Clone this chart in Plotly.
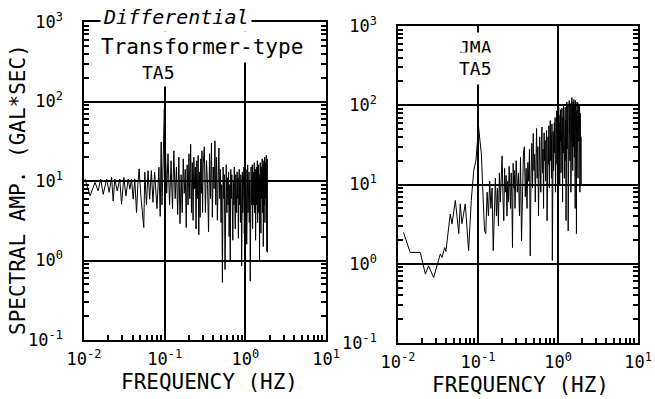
import plotly.graph_objects as go

# ---------------- data ----------------
# Left panel: Differential Transformer-type, TA5 -- low-frequency part
dt_freq_lo = [0.0103, 0.0119, 0.0137, 0.0150, 0.0161, 0.0173, 0.0191, 0.0205, 0.0220, 0.0230,
              0.0241, 0.0258, 0.0278, 0.0292, 0.0312, 0.0331, 0.0353, 0.0370, 0.0388, 0.0407,
              0.0426, 0.0448, 0.0465, 0.0482, 0.0510, 0.0551, 0.0567, 0.0595, 0.0622, 0.0652,
              0.0684, 0.0716, 0.0751, 0.0802, 0.0849, 0.0880, 0.0905, 0.0925, 0.0940, 0.0955,
              0.0975, 0.0990, 0.1005, 0.1020, 0.1040, 0.1060, 0.1080]
dt_amp_lo = [10.6, 6.5, 9.6, 7.5, 10.6, 6.8, 10.6, 7.2, 11.1, 5.6,
             10.6, 7.5, 10.6, 5.1, 11.1, 6.5, 10.6, 7.9, 10.6, 5.9,
             10.6, 4.0, 9.0, 14.2, 6.0, 2.6, 12.9, 5.0, 13.5, 5.9,
             13.5, 5.4, 12.9, 4.5, 14.9, 3.6, 31, 5, 8, 19,
             45, 80, 50, 30, 14, 7, 12]

# shared frequency grids for the dense part
freq_mid = [0.110, 0.115, 0.120, 0.125, 0.130, 0.135, 0.140, 0.145, 0.150, 0.155,
            0.160, 0.165, 0.170, 0.175, 0.180, 0.185, 0.190, 0.195, 0.200, 0.205,
            0.210, 0.215, 0.220, 0.225, 0.230, 0.235, 0.240, 0.245, 0.250, 0.255,
            0.260, 0.265, 0.270, 0.275, 0.280, 0.285, 0.290, 0.295, 0.300]
freq_hi = [0.31, 0.32, 0.33, 0.34, 0.35, 0.36, 0.37, 0.38, 0.39, 0.40,
           0.41, 0.42, 0.43, 0.44, 0.45, 0.46, 0.47, 0.48, 0.49, 0.50,
           0.51, 0.52, 0.53, 0.54, 0.55, 0.56, 0.57, 0.58, 0.59, 0.60,
           0.61, 0.62, 0.63, 0.64, 0.65, 0.66, 0.67, 0.68, 0.69, 0.70,
           0.71, 0.72, 0.73, 0.74, 0.75, 0.76, 0.77, 0.78, 0.79, 0.80,
           0.81, 0.82, 0.83, 0.84, 0.85, 0.86, 0.87, 0.88, 0.89, 0.90,
           0.91, 0.92, 0.93, 0.94, 0.95, 0.96, 0.97, 0.98, 0.99, 1.00,
           1.01, 1.02, 1.03, 1.04, 1.05, 1.06, 1.07, 1.08, 1.09, 1.10,
           1.11, 1.12, 1.13, 1.14, 1.15, 1.16, 1.17, 1.18, 1.19, 1.20,
           1.21, 1.22, 1.23, 1.24, 1.25, 1.26, 1.27, 1.28, 1.29, 1.30,
           1.31, 1.32, 1.33, 1.34, 1.35, 1.36, 1.37, 1.38, 1.39, 1.40,
           1.41, 1.42, 1.43, 1.44, 1.45, 1.46, 1.47, 1.48, 1.49, 1.50,
           1.51, 1.52, 1.53, 1.54, 1.55, 1.56, 1.57, 1.58, 1.59, 1.60,
           1.61, 1.62, 1.63, 1.64, 1.65, 1.66, 1.67, 1.68, 1.69, 1.70,
           1.71, 1.72, 1.73, 1.74, 1.75, 1.76, 1.77, 1.78, 1.79, 1.80,
           1.81, 1.82, 1.83, 1.84, 1.85, 1.86, 1.87, 1.88, 1.89, 1.90,
           1.91, 1.92, 1.93, 1.94, 1.95]

dt_amp_mid = [22, 5, 18, 4.5, 24, 6, 15, 3.8, 20, 2.9,
              12, 4, 19, 7, 14, 2.6, 16, 5, 22, 6,
              29, 4, 17, 3.2, 20, 8, 15, 2.5, 18, 6,
              21, 2.1, 13, 3.5, 19, 7, 24, 4, 16]
dt_amp_hi = [27, 4, 18, 9, 2.3, 22, 6, 30, 3.5, 15,
             8, 32, 5, 20, 3.2, 12, 26, 6, 14, 3.0,
             9, 0.53, 15, 6, 12, 0.77, 8, 16, 4, 11,
             5, 13, 2.0, 9, 1.0, 14, 6, 12, 3, 1.8,
             10, 5, 15, 7, 2.5, 12, 8, 4, 13, 6,
             11, 1.9, 9, 14, 5, 10, 3, 12, 7, 0.85,
             9, 13, 4, 11, 6, 15, 2.2, 10, 8, 12,
             5, 14, 7, 1.6, 11, 9, 16, 4, 12, 6,
             13, 3, 10, 8, 0.55, 12, 6, 15, 5, 11,
             7, 16, 2.5, 9, 13, 5, 11, 8, 17, 4,
             10, 6, 14, 1.8, 12, 8, 15, 5, 11, 7,
             18, 3, 9, 13, 6, 16, 4, 12, 8, 1.0,
             11, 7, 17, 5, 14, 2.2, 10, 15, 6, 12,
             8, 19, 4, 13, 7, 16, 1.5, 11, 9, 18,
             5, 14, 8, 20, 3, 12, 10, 17, 6, 15,
             9, 21, 4, 13, 1.3, 16, 19, 1.26]

# Right panel: JMA, TA5
jma_freq_lo = [0.0117, 0.0142, 0.0190, 0.0220, 0.0241, 0.0279, 0.0338, 0.0355, 0.0383, 0.0397,
               0.0450, 0.0473, 0.0521, 0.0553, 0.0575, 0.0600, 0.0630, 0.0693, 0.0763, 0.0824,
               0.0884, 0.0942, 0.0980, 0.1017, 0.1060, 0.1102, 0.1150, 0.1207]
jma_amp_lo = [2.49, 1.39, 1.39, 0.74, 0.94, 0.67, 1.33, 1.2, 1.6, 1.43,
              4.25, 3.18, 6.3, 3.5, 2.4, 5.7, 3.2, 5.7, 1.46, 6.3,
              15, 20, 30, 53, 35, 24.5, 8, 2.6]
jma_amp_mid = [2.4, 8, 4, 11, 5, 9, 1.46, 7, 12, 4,
               9, 3, 14, 6, 18, 23, 7, 3.5, 16, 8,
               13, 4, 11, 6, 17, 9, 5, 14, 7, 1.6,
               18.5, 9, 15, 5, 12, 20]
jma_amp_hi = [8, 14, 4, 22, 1.95, 10, 25, 30, 7, 16,
              5, 19, 11, 28, 1.26, 13, 33, 9, 44, 15,
              24, 6, 38, 51, 12, 30, 4, 22, 40, 16,
              8, 35, 53, 14, 28, 5, 45, 20, 36, 11,
              30, 48, 3.5, 25, 40, 18, 55, 9, 33, 64,
              20, 42, 12, 58, 1.1, 30, 47, 15, 36, 60,
              25, 70, 8, 45, 33, 85, 18, 52, 28, 1.8,
              40, 95, 22, 60, 10, 75, 35, 88, 14, 50,
              30, 92, 45, 6, 70, 25, 100, 38, 60, 12,
              80, 42, 95, 20, 65, 3.5, 90, 50, 110, 28,
              70, 35, 100, 2.6, 60, 85, 30, 115, 45, 75,
              20, 105, 55, 90, 8, 120, 40, 80, 125, 35,
              95, 60, 15, 110, 48, 85, 30, 118, 65, 22,
              100, 50, 80, 5, 115, 40, 90, 70, 30, 2.4,
              85, 45, 110, 60, 25, 95, 70, 12, 105, 50,
              75, 35, 90, 55, 20, 100, 65, 8, 80, 45,
              60, 25, 70, 10, 40]

# tick labels
x_tickvals = [0.01, 0.1, 1, 10]
x_ticktext = ["10<sup>-2</sup>", "10<sup>-1</sup>", "10<sup>0</sup>", "10<sup>1</sup>"]
y_tickvals = [0.1, 1, 10, 100, 1000]
y_ticktext = ["10<sup>-1</sup>", "10<sup>0</sup>", "10<sup>1</sup>", "10<sup>2</sup>", "10<sup>3</sup>"]
x_minor = [2e-2, 3e-2, 4e-2, 5e-2, 6e-2, 7e-2, 8e-2, 9e-2,
           0.2, 0.3, 0.4, 0.5, 0.6, 0.7, 0.8, 0.9,
           2, 3, 4, 5, 6, 7, 8, 9]
y_minor = [0.2, 0.3, 0.4, 0.5, 0.6, 0.7, 0.8, 0.9,
           2, 3, 4, 5, 6, 7, 8, 9,
           20, 30, 40, 50, 60, 70, 80, 90,
           200, 300, 400, 500, 600, 700, 800, 900]

dt_freq = dt_freq_lo + freq_mid + freq_hi[:len(dt_amp_hi)]
dt_amp = dt_amp_lo + dt_amp_mid + dt_amp_hi
jma_mid_f = [f for f in freq_mid if f >= 0.125]
jma_freq = jma_freq_lo + jma_mid_f + freq_hi[:len(jma_amp_hi)]
jma_amp = jma_amp_lo + jma_amp_mid + jma_amp_hi

# ---------------- figure ----------------
W, H = 655, 399
FONT = "DejaVu Sans Mono"


def px_x(p):
    return p / W


def px_y(p):
    return 1 - p / H


XR = [-2, 1]
YR = [-1, 3]
DX1 = [px_x(84), px_x(326)]
DY1 = [px_y(340), px_y(22)]
DX2 = [px_x(398), px_x(638)]
DY2 = [px_y(343), px_y(26)]

fig = go.Figure()
fig.add_trace(go.Scatter(x=dt_freq, y=dt_amp, mode="lines",
                         line=dict(color="black", width=1), xaxis="x", yaxis="y",
                         showlegend=False, hoverinfo="skip"))
fig.add_trace(go.Scatter(x=jma_freq, y=jma_amp, mode="lines",
                         line=dict(color="black", width=1), xaxis="x2", yaxis="y2",
                         showlegend=False, hoverinfo="skip"))
# empty traces so that the minor-tick overlay axes are drawn
for xa, ya in [("x3", "y3"), ("x3", "y4"), ("x4", "y5"), ("x4", "y6")]:
    fig.add_trace(go.Scatter(x=[None], y=[None], xaxis=xa, yaxis=ya,
                             showlegend=False, hoverinfo="skip"))

xcommon = dict(type="log", range=XR, tickmode="array",
               tickvals=x_tickvals, ticktext=x_ticktext, automargin=False,
               showline=True, linecolor="black", linewidth=1.5, mirror=True,
               ticks="inside", ticklen=7, tickwidth=1.2, tickcolor="black",
               showgrid=True, gridcolor="black", gridwidth=2,
               tickfont=dict(family=FONT, size=17, color="black"),
               ticklabelstandoff=3, zeroline=False)
ycommon = dict(type="log", range=YR, tickmode="array",
               tickvals=y_tickvals, ticktext=y_ticktext, automargin=False,
               showline=True, linecolor="black", linewidth=1.5, mirror="ticks",
               ticks="inside", ticklen=7, tickwidth=1.2, tickcolor="black",
               showgrid=True, gridcolor="black", gridwidth=2,
               tickfont=dict(family=FONT, size=17, color="black"),
               ticklabelstandoff=16, zeroline=False)
minor_common = dict(type="log", tickmode="array", automargin=False,
                    showline=False, showgrid=False, zeroline=False,
                    showticklabels=False, ticks="inside", ticklen=5,
                    tickwidth=1.5, tickcolor="black")

fig.update_layout(
    width=W, height=H,
    margin=dict(l=0, r=0, t=0, b=0, autoexpand=False),
    paper_bgcolor="white", plot_bgcolor="white",
    xaxis=dict(xcommon, domain=DX1, anchor="y"),
    yaxis=dict(ycommon, domain=DY1, anchor="x"),
    xaxis2=dict(xcommon, domain=DX2, anchor="y2"),
    yaxis2=dict(ycommon, domain=DY2, anchor="x2"),
    # minor ticks (overlay axes)
    xaxis3=dict(minor_common, range=XR, tickvals=x_minor, domain=DX1,
                overlaying="x", anchor="y", side="bottom"),
    yaxis3=dict(minor_common, range=YR, tickvals=y_minor, domain=DY1,
                overlaying="y", anchor="x", side="left"),
    yaxis4=dict(minor_common, range=YR, tickvals=y_minor, domain=DY1,
                overlaying="y", anchor="x", side="right"),
    xaxis4=dict(minor_common, range=XR, tickvals=x_minor, domain=DX2,
                overlaying="x2", anchor="y2", side="bottom"),
    yaxis5=dict(minor_common, range=YR, tickvals=y_minor, domain=DY2,
                overlaying="y2", anchor="x2", side="left"),
    yaxis6=dict(minor_common, range=YR, tickvals=y_minor, domain=DY2,
                overlaying="y2", anchor="x2", side="right"),
)

ann = []


def label(text, x, y, size, angle=0, bg=None, pad=1, italic=False):
    d = dict(text=text, x=px_x(x), y=px_y(y), xref="paper", yref="paper",
             showarrow=False, xanchor="center", yanchor="middle", textangle=angle,
             font=dict(family=FONT, size=size, color="black",
                       style="italic" if italic else "normal"),
             borderpad=pad)
    if bg:
        d["bgcolor"] = bg
    ann.append(d)


label("Differential", 176, 17, 20, bg="white", pad=2, italic=True)
label("Transformer-type", 202, 47, 21, bg="white", pad=3)
label("TA5", 158, 72, 18, bg="white", pad=3)
label("JMA", 476, 47, 18, bg="white", pad=4)
label("TA5", 476, 69, 18, bg="white", pad=5)
label("SPECTRAL AMP. (GAL*SEC)", 18, 190, 21, angle=-90)
label("FREQUENCY (HZ)", 209, 382, 21)
label("FREQUENCY (HZ)", 520, 385, 21)
fig.update_layout(annotations=ann)

fig.write_html("out.html")
